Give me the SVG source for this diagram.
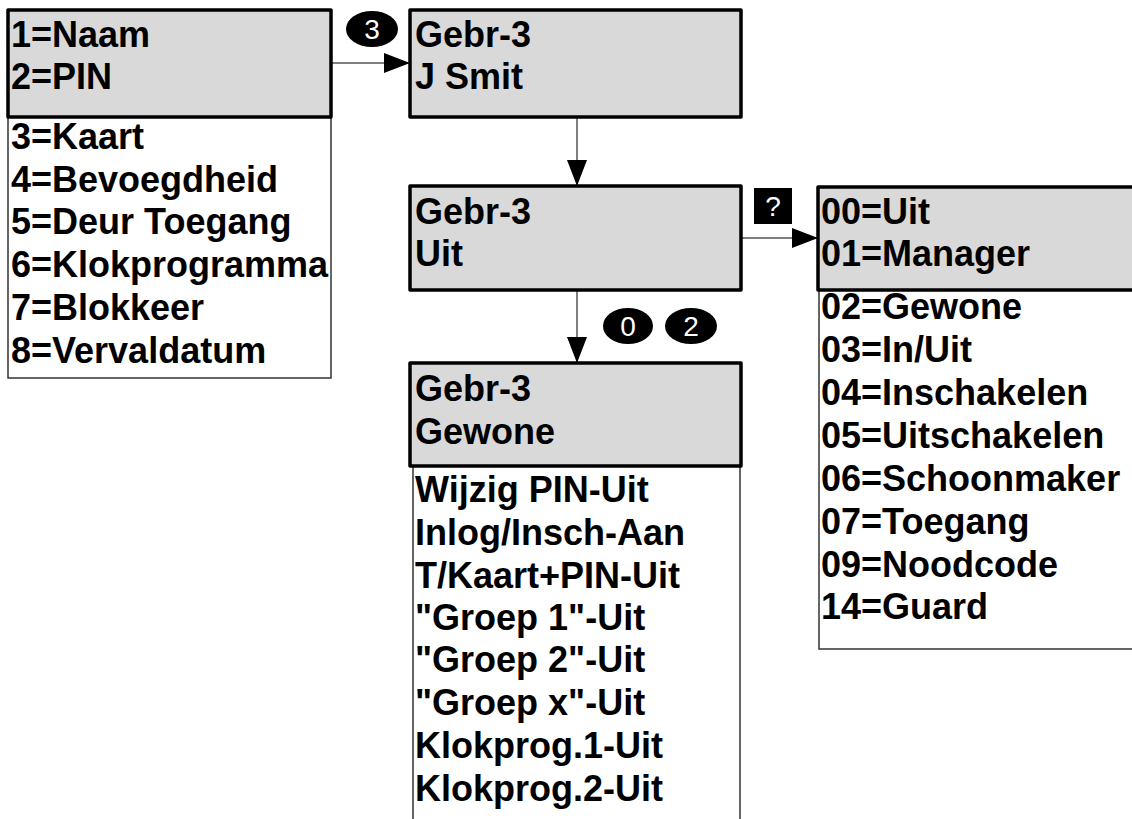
<svg xmlns="http://www.w3.org/2000/svg" width="1132" height="819" viewBox="0 0 1132 819">
<style>
.hdr{fill:#d9d9d9;stroke:#000;stroke-width:3.5;stroke-linejoin:round}
.lst{fill:#fff;stroke:#333;stroke-width:1.5}
.t{font-family:"Liberation Sans",Arial,sans-serif;font-weight:bold;font-size:36px;fill:#000}
.bt{font-family:"Liberation Sans",Arial,sans-serif;font-size:28px;fill:#fff;text-anchor:middle}
.con{stroke:#555;stroke-width:1.5;fill:none}
</style>
<defs>
<marker id="ah" markerWidth="28" markerHeight="22" refX="26" refY="10" orient="auto" markerUnits="userSpaceOnUse">
<path d="M0,0 L26,10 L0,20 Z" fill="#000"/>
</marker>
</defs>
<rect width="1132" height="819" fill="#fff"/>
<g id="connectors">
<line class="con" x1="331" y1="63" x2="410" y2="63" marker-end="url(#ah)"/>
<line class="con" x1="577" y1="117" x2="577" y2="186" marker-end="url(#ah)"/>
<line class="con" x1="741" y1="238" x2="818" y2="238" marker-end="url(#ah)"/>
<line class="con" x1="577" y1="290" x2="577" y2="363" marker-end="url(#ah)"/>
</g>
<g id="badge3"><ellipse cx="372" cy="29" rx="26" ry="18" fill="#000"/><text class="bt" x="372" y="39">3</text></g>
<g id="badgeQ"><rect x="754" y="188" width="38" height="36" fill="#000"/><text class="bt" x="773" y="216">?</text></g>
<g id="badge0"><ellipse cx="628" cy="326" rx="25" ry="18" fill="#000"/><text class="bt" x="628" y="336">0</text></g>
<g id="badge2"><ellipse cx="691" cy="326" rx="26" ry="18" fill="#000"/><text class="bt" x="691" y="336">2</text></g>
<g id="menu1">
<rect class="lst" x="8" y="117" width="323" height="261"/>
<rect class="hdr" x="8" y="10" width="323" height="107"/>
<text class="t" x="11" y="47">1=Naam</text>
<text class="t" x="11" y="89">2=PIN</text>
<text class="t" x="11" y="149">3=Kaart</text>
<text class="t" x="11" y="192">4=Bevoegdheid</text>
<text class="t" x="11" y="234">5=Deur Toegang</text>
<text class="t" x="11" y="277">6=Klokprogramma</text>
<text class="t" x="11" y="320">7=Blokkeer</text>
<text class="t" x="11" y="363">8=Vervaldatum</text>
</g>
<g id="user">
<rect class="hdr" x="410" y="10" width="331" height="107"/>
<text class="t" x="415" y="47">Gebr-3</text>
<text class="t" x="415" y="89">J Smit</text>
</g>
<g id="type">
<rect class="hdr" x="410" y="186" width="331" height="104"/>
<text class="t" x="415" y="224">Gebr-3</text>
<text class="t" x="415" y="266">Uit</text>
</g>
<g id="typelist">
<rect class="lst" x="819" y="290" width="330" height="359"/>
<rect class="hdr" x="818" y="187" width="330" height="103"/>
<text class="t" x="821" y="224">00=Uit</text>
<text class="t" x="821" y="266">01=Manager</text>
<text class="t" x="821" y="319">02=Gewone</text>
<text class="t" x="821" y="362">03=In/Uit</text>
<text class="t" x="821" y="405">04=Inschakelen</text>
<text class="t" x="821" y="448">05=Uitschakelen</text>
<text class="t" x="821" y="491">06=Schoonmaker</text>
<text class="t" x="821" y="534">07=Toegang</text>
<text class="t" x="821" y="577">09=Noodcode</text>
<text class="t" x="821" y="619">14=Guard</text>
</g>
<g id="options">
<rect class="lst" x="413" y="466" width="327" height="380"/>
<rect class="hdr" x="410" y="363" width="331" height="103"/>
<text class="t" x="415" y="401">Gebr-3</text>
<text class="t" x="415" y="444">Gewone</text>
<text class="t" x="415" y="502">Wijzig PIN-Uit</text>
<text class="t" x="415" y="545">Inlog/Insch-Aan</text>
<text class="t" x="415" y="588">T/Kaart+PIN-Uit</text>
<text class="t" x="415" y="630">"Groep 1"-Uit</text>
<text class="t" x="415" y="672">"Groep 2"-Uit</text>
<text class="t" x="415" y="715">"Groep x"-Uit</text>
<text class="t" x="415" y="758">Klokprog.1-Uit</text>
<text class="t" x="415" y="801">Klokprog.2-Uit</text>
</g>
</svg>
